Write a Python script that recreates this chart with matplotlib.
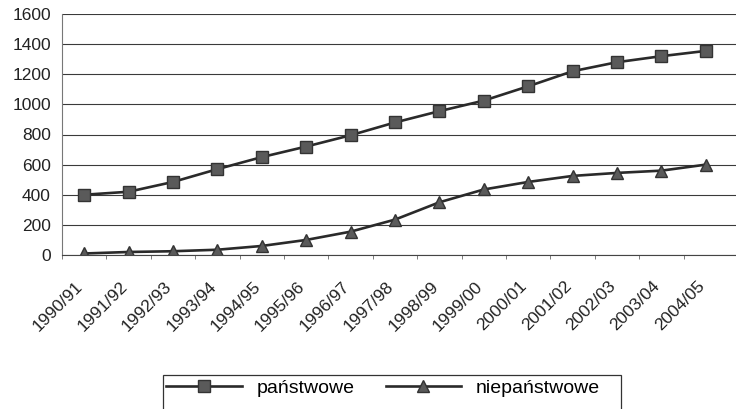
import matplotlib
matplotlib.use("Agg")
import matplotlib.pyplot as plt
import matplotlib.transforms as mtransforms
from matplotlib.patches import Rectangle

# ── dane ──────────────────────────────────────────────────
years = ["1990/91", "1991/92", "1992/93", "1993/94", "1994/95", "1995/96",
         "1996/97", "1997/98", "1998/99", "1999/00", "2000/01", "2001/02",
         "2002/03", "2003/04", "2004/05"]
panstwowe = [400, 420, 485, 570, 650, 720, 795, 880, 955, 1025, 1120, 1220,
             1280, 1320, 1355]
niepanstwowe = [10, 20, 25, 35, 60, 100, 155, 235, 350, 435, 485, 525,
                545, 560, 600]

plt.rcParams["font.family"] = ["Liberation Sans", "DejaVu Sans"]

W, H = 736, 409
fig = plt.figure(figsize=(W / 100, H / 100), dpi=100)
ax = fig.add_axes([62 / W, 1 - 255 / H, 674 / W, 241 / H])

x = list(range(len(years)))
ax.plot(x, panstwowe, "-s", color="#2a2a2a", linewidth=1.9, markersize=8.5,
        markerfacecolor="#5a5a5a", markeredgecolor="#333333", label="państwowe")
ax.plot(x, niepanstwowe, "-^", color="#2a2a2a", linewidth=1.9, markersize=8.5,
        markerfacecolor="#5a5a5a", markeredgecolor="#333333", label="niepaństwowe")

ax.set_ylim(0, 1600)
ax.set_yticks(range(0, 1601, 200))
ax.set_xlim(-0.5, len(years) - 0.32)
ax.yaxis.grid(True, color="#3a3a3a", linewidth=0.8)
ax.set_axisbelow(True)
for s in ["top", "right"]:
    ax.spines[s].set_visible(False)
ax.spines["left"].set_color("#777777")
ax.spines["bottom"].set_color("#444444")

ax.set_xticks([i + 0.5 for i in x[:-1]] + [-0.5], minor=True)
ax.set_xticks(x)
ax.set_xticklabels(years, rotation=45, ha="right", rotation_mode="anchor",
                   fontsize=12.5, color="#222222")
ax.tick_params(axis="x", which="major", length=0, pad=17)
ax.tick_params(axis="x", which="minor", length=3, color="#666666")
ax.tick_params(axis="y", length=0, labelsize=12.5, labelcolor="#222222", pad=8)

shift = mtransforms.ScaledTranslation(-9 / 100, 0, fig.dpi_scale_trans)
for lab in ax.get_xticklabels():
    lab.set_transform(lab.get_transform() + shift)

# ramka legendy (dół ucięty jak w oryginale)
fig.patches.append(Rectangle((163 / W, -0.05), (621 - 163) / W, 0.05 + 34 / H,
                             transform=fig.transFigure, fill=False,
                             edgecolor="#333333", linewidth=0.9))
fig.legend(loc="center left", bbox_to_anchor=(166 / W, 1 - 388 / H), ncol=2,
           fontsize=14, frameon=False, handlelength=3.9, columnspacing=1.6,
           borderpad=0, borderaxespad=0, handletextpad=0.75)

plt.savefig("out.png", dpi=100)
plt.close()
